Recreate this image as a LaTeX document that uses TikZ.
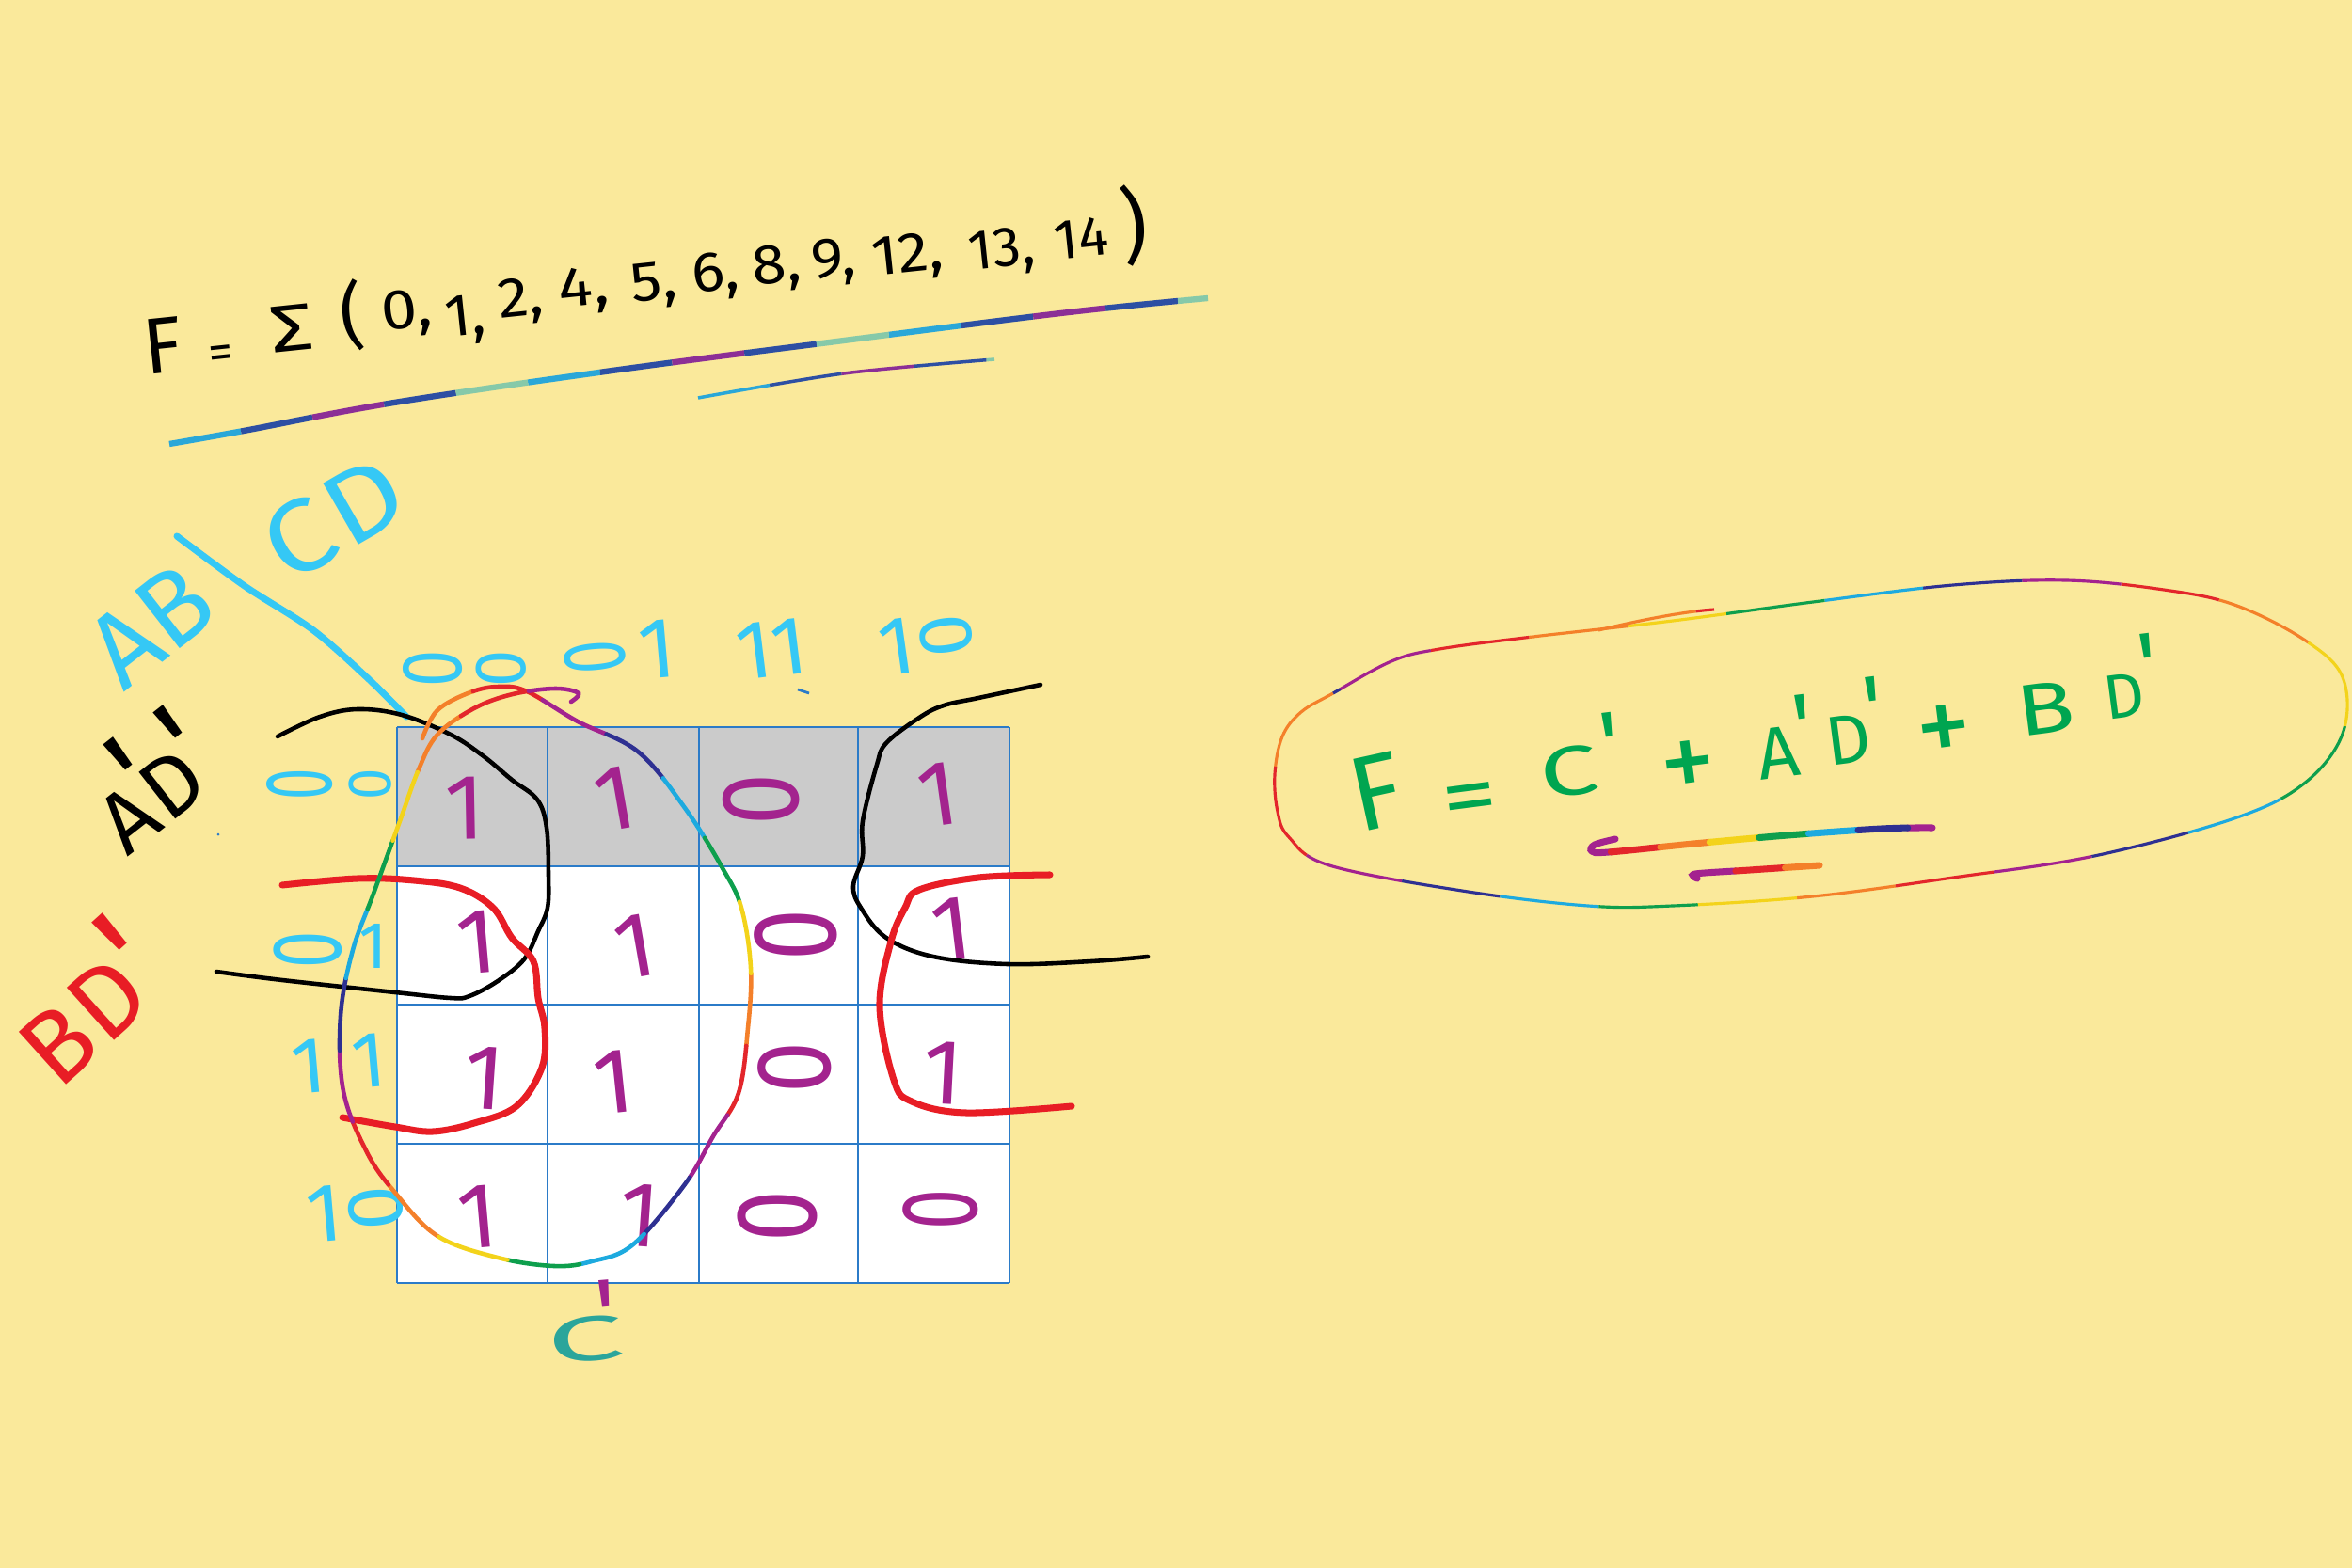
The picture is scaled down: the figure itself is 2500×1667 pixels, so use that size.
\documentclass[tikz,border=0pt]{standalone}
\usepackage{fontspec}
\usepackage{graphicx}
\newfontfamily\hw{Fira Sans}
\newcommand\fs[1]{\fontsize{#1}{#1}\selectfont}
\newcommand\zo[1]{\rotatebox{90}{\scalebox{1}[#1]{0}}}
\newcommand\tick[3]{\rlap{\kern#1\raisebox{#2}{\fs{#3}'}}}
\newcommand\tok[3]{\rlap{\kern#1\raisebox{#2}{#3}}}
\definecolor{bg}{HTML}{FAE99B}
\definecolor{cellg}{HTML}{CBCBCB}
\definecolor{gridc}{HTML}{2B7BC8}
\definecolor{valc}{HTML}{A3238E}
\definecolor{cyc}{HTML}{35C8F5}
\definecolor{redc}{HTML}{E81D25}
\definecolor{grc}{HTML}{00A550}
\definecolor{tealc}{HTML}{2BA59B}
\definecolor{rR}{HTML}{E3262B}
\definecolor{rO}{HTML}{F4802A}
\definecolor{rY}{HTML}{F3D31B}
\definecolor{rG}{HTML}{0E9F4D}
\definecolor{rC}{HTML}{1DAADF}
\definecolor{rB}{HTML}{2E3092}
\definecolor{rP}{HTML}{A3228F}
\definecolor{uB}{HTML}{2D4FA3}
\definecolor{uC}{HTML}{2AA7D8}
\definecolor{uT}{HTML}{86C9A9}
\definecolor{uP}{HTML}{8C2F96}
\begin{document}
\begin{tikzpicture}[x=0.01cm,y=-0.01cm,
 every node/.style={inner sep=0pt,outer sep=0pt},
 hand/.style={font=\hw\fs{#1}},
 val/.style={text=valc,font=\hw\fs{28}},
 lab/.style={text=cyc,font=\hw},
 gridl/.style={draw=gridc,line width=0.5pt},
 blk/.style={draw=black,line width=1.3pt,line cap=round,line join=round},
 redl/.style={draw=redc,line width=2pt,line cap=round,line join=round},
 cyl/.style={draw=cyc,line width=2pt,line cap=round},
 rbC/.style={
  postaction={draw=rO,dash=on 22pt off 132pt phase 0pt},
  postaction={draw=rR,dash=on 22pt off 132pt phase 132pt},
  postaction={draw=rP,dash=on 22pt off 132pt phase 110pt},
  postaction={draw=rB,dash=on 22pt off 132pt phase 88pt},
  postaction={draw=rC,dash=on 22pt off 132pt phase 66pt},
  postaction={draw=rG,dash=on 22pt off 132pt phase 44pt},
  postaction={draw=rY,dash=on 22pt off 132pt phase 22pt}},
 rbE/.style={
  postaction={draw=rO,dash=on 30pt off 180pt phase 0pt},
  postaction={draw=rR,dash=on 30pt off 180pt phase 180pt},
  postaction={draw=rP,dash=on 30pt off 180pt phase 150pt},
  postaction={draw=rB,dash=on 30pt off 180pt phase 120pt},
  postaction={draw=rC,dash=on 30pt off 180pt phase 90pt},
  postaction={draw=rG,dash=on 30pt off 180pt phase 60pt},
  postaction={draw=rY,dash=on 30pt off 180pt phase 30pt}},
 rbU/.style={
  postaction={draw=uC,dash=on 22pt off 88pt phase 0pt},
  postaction={draw=uB,dash=on 22pt off 88pt phase 88pt},
  postaction={draw=uP,dash=on 22pt off 88pt phase 66pt},
  postaction={draw=uB,dash=on 22pt off 88pt phase 44pt},
  postaction={draw=uT,dash=on 22pt off 88pt phase 22pt}},
 rbW/.style={
  postaction={draw=rP,dash=on 15pt off 90pt phase 0pt},
  postaction={draw=rR,dash=on 15pt off 90pt phase 90pt},
  postaction={draw=rO,dash=on 15pt off 90pt phase 75pt},
  postaction={draw=rY,dash=on 15pt off 90pt phase 60pt},
  postaction={draw=rG,dash=on 15pt off 90pt phase 45pt},
  postaction={draw=rC,dash=on 15pt off 90pt phase 30pt},
  postaction={draw=rB,dash=on 15pt off 90pt phase 15pt}}
]
\useasboundingbox (0,0) rectangle (2500,1667);
\fill[bg] (0,0) rectangle (2500,1667);

% ---------- top formula ----------
\node[text=black,rotate=6,anchor=base west,font=\hw] (formula) at (152,378) {%
\tok{0pt}{-6pt}{\fs{24}F}%
\tok{19.3pt}{-6.6pt}{\fs{15}=}%
\tok{38.4pt}{-3.4pt}{\fs{20}\scalebox{1.3}[1]{Σ}}%
\tok{60pt}{-2.3pt}{\fs{22}(}%
\tok{72.5pt}{0pt}{\fs{17}\scalebox{1.15}[1]{0,}}%
\tok{91.5pt}{-4pt}{\fs{18}1,}%
\tok{108pt}{0pt}{\fs{17}\scalebox{1.1}[1]{2,}}%
\tok{126.5pt}{1pt}{\fs{17}\scalebox{1.15}[1]{4,}}%
\tok{148.5pt}{0.6pt}{\fs{17}\scalebox{1.1}[1]{5,}}%
\tok{167pt}{1.3pt}{\fs{17}\scalebox{1.1}[1]{6,}}%
\tok{185.5pt}{1.7pt}{\fs{17}\scalebox{1.1}[1]{8,}}%
\tok{203.5pt}{1.9pt}{\fs{17}\scalebox{1.1}[1]{9,}}%
\tok{221.5pt}{0.9pt}{\fs{17}\scalebox{1.1}[1]{12,}}%
\tok{251pt}{-0.5pt}{\fs{17}13,}%
\tok{277pt}{0pt}{\fs{17}14}%
\tok{297.5pt}{-1pt}{\fs{25})}%
\hspace{306pt}};
\path[rbU,line width=1.8pt] plot[smooth,tension=0.6] coordinates {(180,472) (259,458) (419,428) (658,393) (897,362) (1136,332) (1284,317)};
\path[rbU,line width=1pt] plot[smooth] coordinates {(742,423) (897,397) (1057,382)};

% ---------- K-map grid ----------
\fill[cellg] (422,773) rectangle (1073,921);
\fill[white] (422,921) rectangle (1073,1364);
\foreach \gx in {422,582,743,912,1073} \draw[gridl] (\gx,773) -- (\gx,1364);
\foreach \gy in {773,921,1068,1216,1364} \draw[gridl] (422,\gy) -- (1073,\gy);

% cell values
\node[val,rotate=1] (v00) at (494,859) {1};
\node[val,rotate=10] (v01) at (654,849) {1};
\node[val] (v02) at (809,850) {\zo{1.2}};
\node[val,rotate=8] (v03) at (997,845) {1};
\node[val,rotate=5] (v10) at (507,1002) {1};
\node[val,rotate=10] (v11) at (675,1006) {1};
\node[val] (v12) at (846,994) {\zo{1.3}};
\node[val,rotate=7] (v13) at (1012,988) {1};
\node[val,rotate=-4] (v20) at (515,1146) {1};
\node[val,rotate=6] (v21) at (652,1151) {1};
\node[val] (v22) at (845,1135) {\zo{1.15}};
\node[val,rotate=-3] (v23) at (1002,1141) {1};
\node[val,rotate=5] (v30) at (508,1294) {1};
\node[val,rotate=-4] (v31) at (680,1292) {1};
\node[val] (v32) at (826,1293) {\zo{1.25}};
\node[val,hand=22] (v33) at (1000,1286) {\zo{1.5}};

% column / row labels
\node[lab] (c00) at (494,711) {\fs{20}\zo{1.3}\hspace{4pt}\zo{1.1}};
\node[lab,rotate=5] (c01) at (659,694) {\fs{26}\raisebox{3pt}{\fs{18}\zo{1.5}}\hspace{4pt}1};
\node[lab,rotate=7] (c11) at (820,690) {\fs{25}11};
\node[lab,rotate=8] (c10) at (984,683) {\fs{25}1\hspace{2pt}\raisebox{3pt}{\fs{23}\zo{1.0}}};
\node[lab] (r00) at (350,834) {\fs{17}\zo{1.7}\hspace{5pt}\zo{1.1}};
\node[lab] (r01) at (351,1006) {\fs{20}\zo{1.5}\hspace{5pt}1};
\node[lab,rotate=5] (r11) at (360,1131) {\fs{24}1\hspace{8pt}1};
\node[lab,rotate=5] (r10) at (377,1288) {\fs{25}1\hspace{2pt}\raisebox{2pt}{\fs{24}\zo{1.0}}};
\draw[draw=gridc,line width=0.8pt] (848,733) -- (860,737);

% AB / CD
\node[text=cyc,hand=32,rotate=38] (lAB) at (160,665) {AB};
\node[text=cyc,hand=31,rotate=30,xscale=1.15] (lCD) at (355,551) {C\hspace{1pt}D};
\draw[cyl] plot[smooth] coordinates {(188,570) (260,623) (333,670) (393,723) (432,762)};

% A'D' (black)
\node[text=black,hand=26,rotate=38,anchor=base west] (kAD) at (135,911) {A\tick{-2pt}{4.3pt}{39}\hspace{1pt}D\tick{-2pt}{2.5pt}{39}};

% BD' (red)
\node[text=redc,hand=31,rotate=42,anchor=base west] (bBD) at (62,1160) {B\hspace{1pt}D\tick{-1pt}{0pt}{45}};

% black groups
\draw[blk] plot[smooth,tension=0.6] coordinates {(295,783) (340,762) (380,754) (427,760) (479,781) (514,804) (544,829) (571,850) (581,880) (583,930) (582,965) (572,990) (557,1020) (529,1043) (499,1059) (479,1061) (420,1055) (300,1042) (230,1033)};
\draw[blk] plot[smooth,tension=0.6] coordinates {(1106,728) (1040,742) (1003,750) (977,763) (942,790) (932,813) (917,873) (917,910) (907,942) (915,965) (942,997) (992,1017) (1071,1025) (1160,1022) (1220,1017)};

% red groups
\draw[redl] plot[smooth,tension=0.6] coordinates {(300,941) (380,934) (440,936) (489,944) (524,965) (544,997) (567,1022) (572,1061) (579,1093) (576,1135) (549,1176) (504,1194) (460,1203) (420,1198) (364,1188)};
\draw[redl] plot[smooth,tension=0.6] coordinates {(1116,930) (1040,933) (977,946) (962,965) (947,1001) (935,1070) (950,1148) (969,1171) (1027,1183) (1139,1176)};

% rainbow C' group
\path[rbC,line width=1.3pt,line cap=round] plot[smooth,tension=0.6] coordinates {(449,785) (465,755) (500,736) (530,730) (560,735) (614,767) (678,799) (728,859) (768,923) (788,965) (798,1029) (795,1093) (785,1162) (758,1208) (728,1259) (673,1323) (629,1341) (589,1346) (529,1337) (465,1314) (420,1268) (390,1225) (365,1160) (362,1080) (375,1010) (397,950) (425,873) (445,818) (465,781) (504,753) (545,738) (590,732) (615,737) (607,746)};
\node[text=tealc,hand=19,rotate=5,anchor=base west] (cC) at (583,1450) {\scalebox{2.2}[1]{C}\rlap{\kern-8pt\raisebox{3pt}{\color{rP}\fs{30}'}}};
\fill[gridc] (232,887) circle (1.5);

% ---------- result ----------
\path[rbE,line width=0.9pt] plot[smooth cycle,tension=0.6] coordinates {(1479,703) (1417,737) (1383,757) (1363,783) (1355,823) (1358,863) (1370,890) (1413,920) (1554,947) (1688,963) (1778,963) (1927,953) (2076,933) (2226,910) (2375,870) (2449,833) (2490,780) (2490,720) (2449,680) (2375,643) (2300,627) (2196,617) (2076,622) (1927,640) (1778,660) (1629,677) (1530,690)};
\path[rbE,line width=0.9pt] (1699,670) .. controls (1740,660) and (1790,650) .. (1822,648);
\node[text=grc,rotate=7.4,anchor=base west,font=\hw] (result) at (1435,876) {%
\tok{0pt}{-3pt}{\fs{32}\rotatebox{5}{F}}%
\tok{28pt}{-5pt}{\fs{26}\scalebox{1.3}[1]{=}}%
\tok{58.4pt}{0pt}{\fs{21}\scalebox{1.5}[1]{C}}%
\tok{77.5pt}{4pt}{\fs{28}'}%
\tok{94.6pt}{-5.8pt}{\fs{34}+}%
\tok{124.3pt}{-3pt}{\fs{22}A}%
\tok{136pt}{2pt}{\fs{28}'}%
\tok{145.5pt}{-1.3pt}{\fs{21}D}%
\tok{158pt}{4.6pt}{\fs{28}'}%
\tok{172.7pt}{-5pt}{\fs{34}+}%
\tok{203.9pt}{0pt}{\fs{22}\scalebox{1.3}[1]{B}}%
\tok{230.5pt}{1.8pt}{\fs{19}D}%
\tok{242pt}{6.8pt}{\fs{28}'}%
\hspace{249pt}};
\path[rbW,line width=2pt,line cap=round] plot[smooth,tension=0.6] coordinates {(1717,892) (1695,898) (1692,905) (1710,906) (1800,897) (1900,888) (2000,881) (2054,880)};
\path[rbW,line width=2pt,line cap=round] plot[smooth] coordinates {(1804,934) (1802,929) (1860,925) (1934,920)};
\end{tikzpicture}
\end{document}
